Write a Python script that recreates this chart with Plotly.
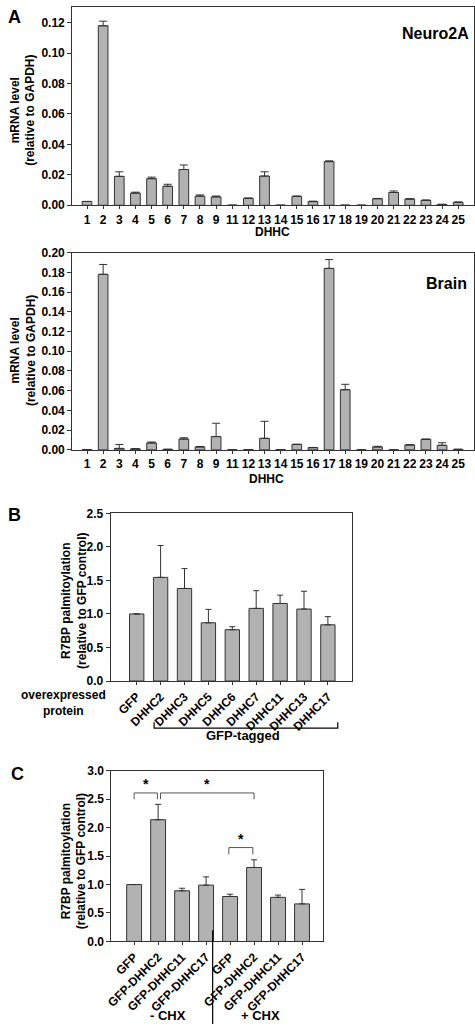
import plotly.graph_objects as go

# ---------------- data ----------------
dhhc_labels = ["1", "2", "3", "4", "5", "6", "7", "8", "9", "11", "12", "13", "14",
               "15", "16", "17", "18", "19", "20", "21", "22", "23", "24", "25"]
neuro_vals = [0.0025, 0.118, 0.019, 0.008, 0.0175, 0.0125, 0.0235, 0.006, 0.0055, 0.0, 0.0045, 0.0192, 0.0,
              0.0058, 0.0024, 0.0287, 0.0, 0.0, 0.0043, 0.0084, 0.0041, 0.0032, 0.0005, 0.0019]
neuro_err = [0.0, 0.003, 0.003, 0.0006, 0.001, 0.0013, 0.003, 0.0008, 0.0006, 0.0, 0.0003, 0.0028, 0.0,
             0.0003, 0.0003, 0.0005, 0.0, 0.0, 0.0002, 0.001, 0.0002, 0.0003, 0.0002, 0.0003]
brain_vals = [0.0003, 0.178, 0.0015, 0.001, 0.007, 0.0005, 0.011, 0.003, 0.0135, 0.0, 0.0003, 0.0117, 0.0002,
              0.0055, 0.0023, 0.184, 0.061, 0.0, 0.003, 0.0, 0.005, 0.0107, 0.0047, 0.0005]
brain_err = [0.0, 0.010, 0.004, 0.0003, 0.001, 0.0002, 0.0013, 0.0005, 0.0135, 0.0, 0.0, 0.0173, 0.0,
             0.0003, 0.0002, 0.009, 0.0055, 0.0, 0.0006, 0.0, 0.0004, 0.0003, 0.0026, 0.0002]

b_labels = ["GFP", "DHHC2", "DHHC3", "DHHC5", "DHHC6", "DHHC7", "DHHC11", "DHHC13", "DHHC17"]
b_vals = [1.0, 1.545, 1.38, 0.868, 0.765, 1.083, 1.156, 1.073, 0.838]
b_err = [0.0, 0.475, 0.296, 0.20, 0.045, 0.264, 0.124, 0.265, 0.122]

c_labels = ["GFP", "GFP-DHHC2", "GFP-DHHC11", "GFP-DHHC17", "GFP", "GFP-DHHC2", "GFP-DHHC11", "GFP-DHHC17"]
c_vals = [1.0, 2.14, 0.89, 0.99, 0.79, 1.30, 0.775, 0.66]
c_err = [0.0, 0.27, 0.045, 0.145, 0.04, 0.135, 0.04, 0.255]

W, H = 475, 1031
FONT = "Liberation Sans"
BAR = "#b2b2b2"
EDGE = "#333333"


def py(px):
    return 1 - px / H


def pxx(px):
    return px / W


fig = go.Figure()


def add_bars(vals, err, xa, ya, width, cap):
    fig.add_trace(go.Bar(
        x=list(range(len(vals))), y=vals, xaxis=xa, yaxis=ya, width=width,
        marker=dict(color=BAR, line=dict(color=EDGE, width=1)),
        error_y=dict(type="data", array=err, arrayminus=[0] * len(err), symmetric=False,
                     color=EDGE, thickness=1, width=cap),
        showlegend=False, hoverinfo="skip"))


add_bars(neuro_vals, neuro_err, "x", "y", 0.6, 4)
add_bars(brain_vals, brain_err, "x2", "y2", 0.6, 4)
add_bars(b_vals, b_err, "x3", "y3", 0.6, 3)
add_bars(c_vals, c_err, "x4", "y4", 0.62, 3)

axis_common = dict(showline=True, mirror=True, linecolor="#333333", linewidth=1,
                   ticks="outside", tickcolor="#333333", showgrid=False, zeroline=False,
                   tickfont=dict(family=FONT, size=12, color="black", weight="bold"))

lay = dict(width=W, height=H, margin=dict(l=0, r=0, t=0, b=0),
           paper_bgcolor="white", plot_bgcolor="white", bargap=0.4)

# Panel A top
lay["xaxis"] = dict(axis_common, domain=[pxx(67), pxx(474)], anchor="y", range=[-0.92, 23.98],
                    tickvals=list(range(len(dhhc_labels))), ticktext=dhhc_labels, ticklen=3)
lay["yaxis"] = dict(axis_common, domain=[py(201), py(0.5)], anchor="x", range=[0, 0.13],
                    tickvals=[0, 0.02, 0.04, 0.06, 0.08, 0.10, 0.12], tickformat=".2f", ticklen=4)
# Panel A bottom
lay["xaxis2"] = dict(axis_common, domain=[pxx(67), pxx(474)], anchor="y2", range=[-0.92, 23.98],
                     tickvals=list(range(len(dhhc_labels))), ticktext=dhhc_labels, ticklen=3)
lay["yaxis2"] = dict(axis_common, domain=[py(449), py(249)], anchor="x2", range=[0, 0.20],
                     dtick=0.02, tickformat=".2f", ticklen=4)
# Panel B
lay["xaxis3"] = dict(axis_common, domain=[pxx(106), pxx(350.7)], anchor="y3", range=[-1.09, 9.02],
                     tickvals=list(range(len(b_labels))), ticktext=b_labels, tickangle=-45, ticklen=3)
lay["yaxis3"] = dict(axis_common, domain=[py(683.3), py(513.3)], anchor="x3", range=[0, 2.5],
                     dtick=0.5, tickformat=".1f", ticklen=4)
# Panel C
lay["xaxis4"] = dict(axis_common, domain=[pxx(106.7), pxx(320.7)], anchor="y4", range=[-0.95, 7.86],
                     tickvals=list(range(len(c_labels))), ticktext=c_labels, tickangle=-45, ticklen=3)
lay["yaxis4"] = dict(axis_common, domain=[py(947.3), py(774.3)], anchor="x4", range=[0, 3.0],
                     dtick=0.5, tickformat=".1f", ticklen=4)

fig.update_layout(**lay)


def txt(x, y, s, size, xanchor="center", yanchor="middle", angle=0):
    fig.add_annotation(x=pxx(x), y=py(y), xref="paper", yref="paper", text=s, showarrow=False,
                       xanchor=xanchor, yanchor=yanchor, textangle=angle, borderpad=0,
                       font=dict(family=FONT, size=size, color="black", weight="bold"))


# panel letters
txt(1, 10, "A", 18, xanchor="left")
txt(1, 515, "B", 18, xanchor="left")
txt(4, 778, "C", 18, xanchor="left")

# inner titles
txt(470, 27, "Neuro2A", 16, xanchor="right")
txt(468, 280, "Brain", 16, xanchor="right")

# y titles
txt(16.5, 105, "mRNA level<br>(relative to GAPDH)", 12, angle=-90)
txt(18, 348, "mRNA level<br>(relative to GAPDH)", 12, angle=-90)
txt(69, 602, "R7BP palmitoylation<br>(relative to GFP control)", 12, angle=-90)
txt(69, 866, "R7BP palmitoylation<br>(relative to GFP control)", 12, angle=-90)

# x titles
txt(270, 228, "DHHC", 12)
txt(264, 478, "DHHC", 12)
txt(58, 706, "overexpressed<br>protein", 12)
txt(240, 739, "GFP-tagged", 13)
txt(164, 1022, "- CHX", 13)
txt(258, 1022, "+ CHX", 13)

# GFP-tagged bracket
fig.add_shape(type="path", xref="paper", yref="paper",
              path=f"M {pxx(150)},{py(725)} L {pxx(150)},{py(731)} L {pxx(336)},{py(731)} L {pxx(336)},{py(725)}",
              line=dict(color="black", width=1.2))

# CHX separator
fig.add_shape(type="line", xref="paper", yref="paper", x0=pxx(209.3), x1=pxx(209.3), y0=py(1031), y1=py(936),
              line=dict(color="black", width=1.2))

# significance brackets (panel C data coordinates)
def bracket(x0, x1, ytop, ybot, star_y):
    fig.add_shape(type="path", xref="x4", yref="y4",
                  path=f"M {x0},{ybot} L {x0},{ytop} L {x1},{ytop} L {x1},{ybot}",
                  line=dict(color="#555555", width=1))
    fig.add_annotation(x=(x0 + x1) / 2, y=star_y, xref="x4", yref="y4", text="*", showarrow=False,
                       font=dict(family=FONT, size=14, color="black", weight="bold"))


bracket(0, 0.97, 2.61, 2.50, 2.76)
bracket(1.1, 5.0, 2.61, 2.50, 2.76)
bracket(3.95, 4.95, 1.65, 1.53, 1.80)

fig.write_html("out.html", config={"displayModeBar": False},
               post_script="document.body.style.margin='0';document.body.style.overflow='hidden';")
